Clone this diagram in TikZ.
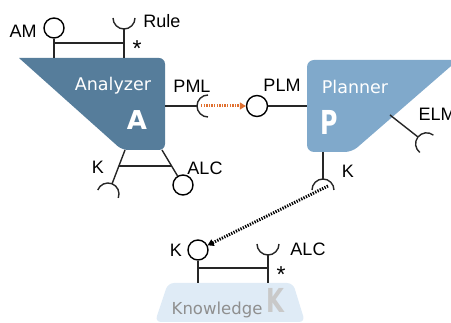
\documentclass[tikz,border=0pt]{standalone}
\usepackage{fontspec}
\setmainfont{Liberation Sans}
\newfontfamily\shapefont{DejaVu Sans}
\usetikzlibrary{arrows.meta}
\definecolor{anaC}{HTML}{567D9B}
\definecolor{plaC}{HTML}{80A9CB}
\definecolor{knoC}{HTML}{DFEBF6}
\definecolor{orC}{HTML}{E07030}
\definecolor{ktxt}{HTML}{8F8F8F}
\definecolor{kbig}{HTML}{C9C9C9}
\begin{document}
\begin{tikzpicture}[x=1pt,y=-1pt, line width=1.4pt,
  lbl/.style={font=\fontsize{18}{18}\selectfont, inner sep=0pt},
  starlbl/.style={font=\fontsize{23}{23}\selectfont, inner sep=0pt, anchor=base},
  shapetxt/.style={font=\shapefont\fontsize{17.5}{17.5}\selectfont, text=white, inner sep=0pt, anchor=base},
  lolli/.style={circle, draw=black, fill=white, line width=1.4pt, minimum size=20pt, inner sep=0pt},
  wire/.style={draw=black!85, line width=1.4pt},
  sock/.style={draw=black!85, line width=1.4pt},
  dotarrow/.style={line width=3pt, dash pattern=on 1.3pt off 1.3pt},
]
\useasboundingbox (0,0) rectangle (451,323);

% ---------------- Analyzer ----------------
\fill[anaC] (90,58) [rounded corners=6pt] -- (165,58) -- (165,150) -- (122,150) [sharp corners] -- (19,58) -- cycle;
\node[shapetxt] (anaName) at (113,91) {Analyzer};
\node[shapetxt, font=\shapefont\bfseries\fontsize{26}{26}\selectfont] (anaA) at (137,130) {A};

\coordinate (aTopL) at (54,58);
\coordinate (aTopR) at (124,58);
\coordinate (aRight) at (165,106);
\coordinate (aBotL) at (125,150);
\coordinate (aBotR) at (162,150);

% AM lollipop
\node[lolli] (am) at (54,28) {};
\draw[wire] (am) -- (aTopL);
\node[lbl] (amL) at (23,31) {AM};

% Rule socket
\coordinate (ruleS) at (124,18);
\coordinate (ruleB) at (124,29);
\draw[sock] ([shift={(0:11)}]ruleS) arc[start angle=0, end angle=180, radius=11];
\draw[wire] (ruleB) -- (aTopR);
\node[lbl] (ruleL) at (162,21) {Rule};

% bar + star
\coordinate (barA1) at (54,43);
\coordinate (barA2) at (124,43);
\draw[wire] (barA1) -- (barA2);
\node[starlbl] (starA) at (137,57) {*};

% PML socket
\coordinate (pmlS) at (208,106);
\coordinate (pmlB) at (197,106);
\draw[wire] (aRight) -- (pmlB);
\draw[sock] ([shift={(90:11)}]pmlS) arc[start angle=90, end angle=270, radius=11];
\node[lbl] (pmlL) at (192,86) {PML};

% bottom legs of Analyzer
\coordinate (kAend) at (112,184);
\coordinate (kAS) at (108,194);
\draw[wire] (aBotL) -- (kAend);
\draw[sock] ([shift={(200.9:11)}]kAS) arc[start angle=200.9, end angle=380.9, radius=11];
\node[lolli] (alcA) at (183,185) {};
\draw[wire] (aBotR) -- (alcA);
\coordinate (barB1) at (119,166);
\coordinate (barB2) at (171.6,166);
\draw[wire] (barB1) -- (barB2);
\node[lbl] (kAL) at (98,167) {K};
\node[lbl] (alcAL) at (205,168) {ALC};

% ---------------- Planner ----------------
\fill[plaC, rounded corners=7pt] (307,60) -- (458,60) -- (352,152) -- (307,152) -- cycle;
\node[shapetxt] (plaName) at (355,94) {Planner};
\node[shapetxt, font=\shapefont\bfseries\fontsize{33}{33}\selectfont] (plaP) at (329.5,135) {\scalebox{0.72}[1]{P}};

\coordinate (pLeft) at (307,106);
\coordinate (pDiag) at (390,115);
\coordinate (pBot) at (323,152);

% PLM lollipop
\node[lolli, minimum size=21pt] (plm) at (257,106) {};
\draw[wire] (plm) -- (pLeft);
\node[lbl] (plmL) at (282,85) {PLM};

% orange dotted arrow PML -> PLM
\coordinate (pmlOut) at (201,106);
\draw[orC, dotarrow, -{Triangle[length=6pt,width=7pt]}] (pmlOut) -- (plm);

% ELM socket
\coordinate (elmEnd) at (418,137);
\coordinate (elmS) at (426.6,143.8);
\draw[wire] (pDiag) -- (elmEnd);
\draw[sock] ([shift={(128.2:11)}]elmS) arc[start angle=128.2, end angle=308.2, radius=11];
\node[lbl, anchor=west] (elmL) at (418,114) {ELM};

% K socket of planner
\coordinate (kPend) at (323,179);
\coordinate (kPS) at (323,190);
\draw[wire] (pBot) -- (kPend);
\draw[sock] ([shift={(180:11)}]kPS) arc[start angle=180, end angle=360, radius=11];
\node[lbl] (kPL) at (348,171) {K};

% ---------------- Knowledge ----------------
\fill[knoC, rounded corners=6pt] (168,283) -- (293,283) -- (305,322) -- (155,322) -- cycle;
\node[font=\shapefont\fontsize{16.5}{16.5}\selectfont, text=ktxt, inner sep=0pt, anchor=base west] (knoName) at (171,315) {Knowledge};
\node[font=\shapefont\bfseries\fontsize{33}{33}\selectfont, text=kbig, inner sep=0pt, anchor=base] (knoK) at (275.5,313) {\scalebox{0.7}[1]{K}};

\coordinate (kTopL) at (198,283);
\coordinate (kTopR) at (268,283);

\node[lolli] (kK) at (198,250) {};
\draw[wire] (kK) -- (kTopL);
\node[lbl] (kKL) at (176,250) {K};

\coordinate (alcKS) at (268,244);
\coordinate (alcKB) at (268,255);
\draw[sock] ([shift={(0:11)}]alcKS) arc[start angle=0, end angle=180, radius=11];
\draw[wire] (alcKB) -- (kTopR);
\node[lbl] (alcKL) at (308,249) {ALC};

\coordinate (barK1) at (198,268);
\coordinate (barK2) at (268,268);
\draw[wire] (barK1) -- (barK2);
\node[starlbl] (starK) at (281,283) {*};

% black dotted arrow planner K -> knowledge K
\coordinate (kOut) at (328,186);
\draw[black, dotarrow, -{Triangle[length=6pt,width=7pt]}] (kOut) -- (kK);
\end{tikzpicture}
\end{document}
